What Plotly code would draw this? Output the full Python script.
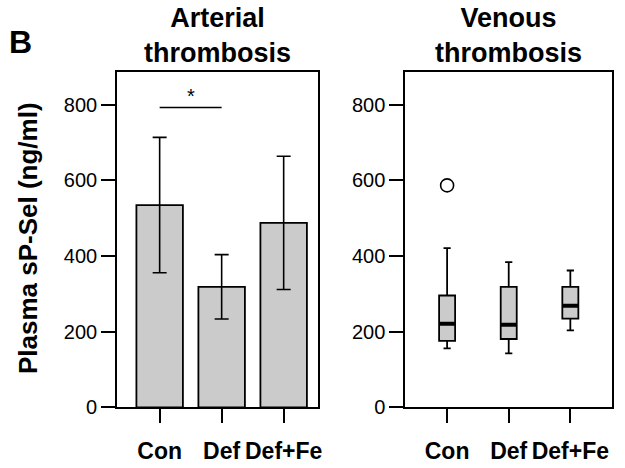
import plotly.graph_objects as go

# Treatment groups shared by both panels
groups = ["Con", "Def", "Def+Fe"]
positions = [0, 1, 2]

# Arterial thrombosis: mean plasma sP-Sel with error
arterial_mean = [535, 319, 488]
arterial_err = [179, 85, 176]

# Venous thrombosis: box summary statistics
venous_lower = [156, 143, 204]
venous_q1 = [176, 181, 235]
venous_median = [221, 219, 269]
venous_q3 = [296, 319, 319]
venous_upper = [421, 384, 362]
venous_outlier_group = [0]
venous_outlier_value = [587]

# Significance bracket between Con and Def (arterial)
sig_pair = [0, 1]
sig_level = 793
sig_label = "*"

y_ticks = [0, 200, 400, 600, 800]
y_max = 886

FONT = "Liberation Sans, Arial, Helvetica, sans-serif"
GREY = "#cbcbcb"
W, H = 625, 468
box_width = 0.26

fig = go.Figure()

fig.add_trace(go.Bar(
    x=positions, y=arterial_mean, width=0.75,
    marker=dict(color=GREY, line=dict(color="black", width=1.8)),
    error_y=dict(type="data", array=arterial_err, color="black",
                 thickness=1.6, width=7),
    xaxis="x", yaxis="y", showlegend=False,
))

# significance line
fig.add_trace(go.Scatter(
    x=sig_pair, y=[sig_level, sig_level], mode="lines",
    line=dict(color="black", width=1.6),
    xaxis="x", yaxis="y", showlegend=False, hoverinfo="skip",
))

fig.add_trace(go.Box(
    x=positions, q1=venous_q1, median=venous_median, q3=venous_q3,
    lowerfence=venous_lower, upperfence=venous_upper,
    width=box_width, whiskerwidth=0.45, boxpoints=False,
    fillcolor=GREY, line=dict(color="black", width=1.8),
    xaxis="x2", yaxis="y2", showlegend=False,
))

# thick median bars
mx, my = [], []
for p, m in zip(positions, venous_median):
    mx += [p - box_width / 2, p + box_width / 2, None]
    my += [m, m, None]
fig.add_trace(go.Scatter(
    x=mx, y=my, mode="lines", line=dict(color="black", width=4),
    xaxis="x2", yaxis="y2", showlegend=False, hoverinfo="skip",
))

fig.add_trace(go.Scatter(
    x=venous_outlier_group, y=venous_outlier_value, mode="markers",
    marker=dict(size=13, color="white", line=dict(color="black", width=1.6)),
    xaxis="x2", yaxis="y2", showlegend=False,
))

axis_common = dict(
    showline=True, linecolor="black", linewidth=2, mirror=True,
    ticks="outside", ticklen=14, tickwidth=2, tickcolor="black",
    showgrid=False, zeroline=False,
)
xfont = dict(family=FONT, size=23, color="black", weight="bold")
yfont = dict(family=FONT, size=20, color="black")

y_dom = [1 - 417.3 / H, 1 - 74 / H]
fig.update_layout(
    width=W, height=H,
    margin=dict(l=0, r=0, t=0, b=0),
    paper_bgcolor="white", plot_bgcolor="white",
    xaxis=dict(domain=[118 / W, 320 / W], range=[-0.684, 2.553],
               tickvals=positions, ticktext=groups, tickfont=xfont,
               ticklabelstandoff=8, anchor="y", **axis_common),
    yaxis=dict(domain=y_dom, range=[0, y_max], tickvals=y_ticks,
               tickfont=yfont, anchor="x", **axis_common),
    xaxis2=dict(domain=[408 / W, 616 / W], range=[-0.677, 2.677],
                tickvals=positions, ticktext=groups, tickfont=xfont,
                ticklabelstandoff=8, anchor="y2", **axis_common),
    yaxis2=dict(domain=y_dom, range=[0, y_max], tickvals=y_ticks,
                tickfont=yfont, anchor="x2", **axis_common),
)

title_font = dict(family=FONT, size=27, color="black", weight="bold")
fig.add_annotation(text="Arterial<br>thrombosis", xref="paper", yref="paper",
                   x=(118 + 320) / 2 / W, y=1 - 1 / H, xanchor="center", yanchor="top",
                   showarrow=False, font=title_font)
fig.add_annotation(text="Venous<br>thrombosis", xref="paper", yref="paper",
                   x=(408 + 616) / 2 / W, y=1 - 1 / H, xanchor="center", yanchor="top",
                   showarrow=False, font=title_font)
fig.add_annotation(text="B", xref="paper", yref="paper",
                   x=7 / W, y=1 - 23 / H, xanchor="left", yanchor="top",
                   showarrow=False,
                   font=dict(family=FONT, size=32, color="black", weight="bold"))
fig.add_annotation(text="Plasma sP-Sel (ng/ml)", xref="paper", yref="paper",
                   x=28 / W, y=1 - 244 / H, xanchor="center", yanchor="middle",
                   textangle=-90, showarrow=False,
                   font=dict(family=FONT, size=26, color="black", weight="bold"))
fig.add_annotation(text=sig_label, xref="x", yref="y",
                   x=sum(sig_pair) / 2, y=sig_level, yanchor="bottom",
                   showarrow=False, yshift=-2,
                   font=dict(family=FONT, size=20, color="black"))

fig.write_html("out.html")
